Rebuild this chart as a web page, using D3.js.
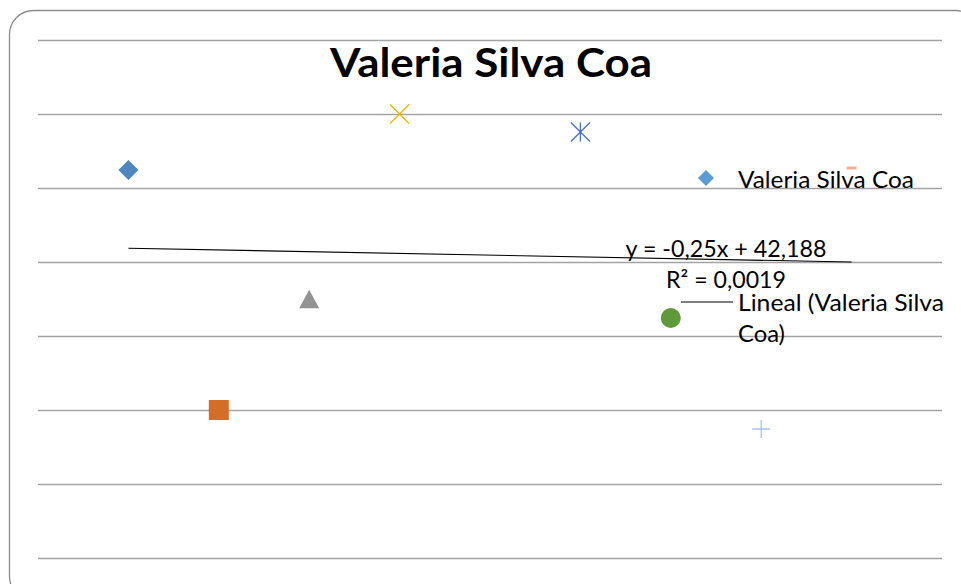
<!DOCTYPE html>
<html>
<head>
<meta charset="utf-8">
<script src="https://cdn.jsdelivr.net/npm/d3@7"></script>
<style>
  body { margin: 0; background: #fff; }
  text { font-family: Lato, "Open Sans", sans-serif; fill: #000; }
</style>
</head>
<body>
<div id="chart"></div>
<script>
const width = 961,
   height = 584,
   plot = {left: 38, right: 942, top: 40, bottom: 558},
   seriesName = 'Valeria Silva Coa',
   xValues = [1, 2, 3, 4, 6, 7, 8, 9],
   yValues = [52.43, 20, 34.9, 60, 57.57, 32.43, 17.43, 52.7],
   markers = ['diamond', 'square', 'triangle', 'times', 'asterisk', 'circle', 'plus', 'dash'],
   colors = ['#4f86c0', '#d46d2a', '#939393', '#f0b400', '#4a6fc7', '#5e9a3a', '#a8c4e6', '#f4b090'],
   yTicks = [0, 10, 20, 30, 40, 50, 60, 70],
   trendLabel = ['y = -0,25x + 42,188', 'R² = 0,0019'];

const points = xValues.map((x, i) => ({x: x, y: yValues[i], marker: markers[i], color: colors[i]}));

const svg = d3.select('#chart')
   .append('svg')
   .attr('width', width)
   .attr('height', height);

const x = d3.scaleLinear().domain([0, 10]).range([plot.left, plot.right]);
const y = d3.scaleLinear().domain([0, 70]).range([plot.bottom, plot.top]);

// chart border, rounded, running off the right and bottom edges
svg.append('rect')
   .attr('x', 9.5).attr('y', 10.5)
   .attr('width', 970).attr('height', 590)
   .attr('rx', 24).attr('ry', 24)
   .attr('fill', 'none')
   .attr('stroke', '#8c8c8c')
   .attr('stroke-width', 1.3);

// gridlines
svg.append('g')
   .attr('transform', `translate(${plot.left}, 0)`)
   .call(d3.axisLeft(y).tickValues(yTicks).tickSize(-(plot.right - plot.left)).tickFormat(''))
   .call(g => g.select('.domain').remove())
   .call(g => g.selectAll('.tick line').attr('stroke', '#a3a3a3').attr('stroke-width', 1.5));

// title
svg.append('text')
   .attr('x', 491).attr('y', 77)
   .attr('text-anchor', 'middle')
   .attr('font-size', 40).attr('font-weight', 'bold')
   .attr('textLength', 322).attr('lengthAdjust', 'spacingAndGlyphs')
   .text(seriesName);

// linear trend, least squares from the data
const mx = d3.mean(xValues), my = d3.mean(yValues);
const slope = d3.sum(xValues, (v, i) => (v - mx) * (yValues[i] - my)) / d3.sum(xValues, v => (v - mx) ** 2);
const intercept = my - slope * mx;
const xExt = d3.extent(xValues);
svg.append('line')
   .attr('x1', x(xExt[0])).attr('y1', y(intercept + slope * xExt[0]))
   .attr('x2', x(xExt[1])).attr('y2', y(intercept + slope * xExt[1]))
   .attr('stroke', '#000').attr('stroke-width', 1.1);

const markerPath = function(type, s) {
   switch (type) {
      case 'diamond': return `M0,${-s}L${s},0L0,${s}L${-s},0Z`;
      case 'square': return `M${-s},${-s}H${s}V${s}H${-s}Z`;
      case 'triangle': return `M0,${-s}L${s},${s * 0.85}H${-s}Z`;
      case 'circle': return d3.symbol(d3.symbolCircle, Math.PI * s * s)();
      case 'times': return `M${-s},${-s}L${s},${s}M${s},${-s}L${-s},${s}`;
      case 'asterisk': return `M${-s},${-s}L${s},${s}M${s},${-s}L${-s},${s}M0,${-s}V${s}`;
      case 'plus': return `M${-s},0H${s}M0,${-s}V${s}`;
      case 'dash': return `M${-s * 0.55},-1.5H${s * 0.55}V1.5H${-s * 0.55}Z`;
   }
};
const stroked = ['times', 'asterisk', 'plus'];
const sizes = {diamond: 10, square: 10, triangle: 10, circle: 10, times: 9.5, asterisk: 9.5, plus: 9, dash: 9};

svg.append('g')
   .selectAll('path')
   .data(points)
   .join('path')
   .attr('transform', d => `translate(${x(d.x)}, ${y(d.y)})`)
   .attr('d', d => markerPath(d.marker, sizes[d.marker]))
   .attr('fill', d => stroked.includes(d.marker) ? 'none' : d.color)
   .attr('stroke', d => stroked.includes(d.marker) ? d.color : 'none')
   .attr('stroke-width', 1.3);

// trendline label
svg.append('text')
   .attr('x', 726).attr('y', 257)
   .attr('text-anchor', 'middle')
   .attr('font-size', 23)
   .attr('textLength', 201).attr('lengthAdjust', 'spacingAndGlyphs')
   .text(trendLabel[0]);
svg.append('text')
   .attr('x', 726).attr('y', 288)
   .attr('text-anchor', 'middle')
   .attr('font-size', 23)
   .attr('textLength', 120).attr('lengthAdjust', 'spacingAndGlyphs')
   .text(trendLabel[1]);

// legend
const legend = svg.append('g');
legend.append('path')
   .attr('transform', 'translate(706, 178)')
   .attr('d', markerPath('diamond', 8))
   .attr('fill', '#5b9bd5');
legend.append('text')
   .attr('x', 738).attr('y', 188)
   .attr('font-size', 23)
   .attr('textLength', 176).attr('lengthAdjust', 'spacingAndGlyphs')
   .text(seriesName);
legend.append('line')
   .attr('x1', 681).attr('x2', 733)
   .attr('y1', 302).attr('y2', 302)
   .attr('stroke', '#000').attr('stroke-width', 1.1);
legend.append('text')
   .attr('x', 738).attr('y', 311)
   .attr('font-size', 23)
   .attr('textLength', 206).attr('lengthAdjust', 'spacingAndGlyphs')
   .text(`Lineal (${seriesName.split(' ').slice(0, 2).join(' ')}`);
legend.append('text')
   .attr('x', 738).attr('y', 342)
   .attr('font-size', 23)
   .attr('textLength', 47).attr('lengthAdjust', 'spacingAndGlyphs')
   .text(`${seriesName.split(' ')[2]})`);
</script>
</body>
</html>
